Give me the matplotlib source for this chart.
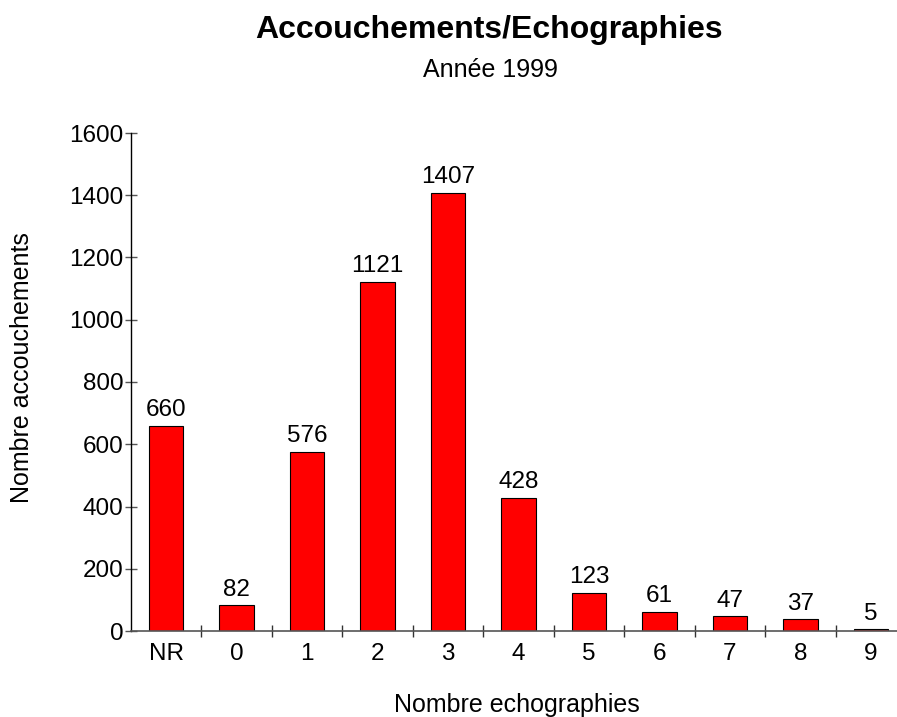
import matplotlib.pyplot as plt

plt.rcParams['font.family'] = ['Liberation Sans', 'DejaVu Sans']

categories = ['NR', '0', '1', '2', '3', '4', '5', '6', '7', '8', '9']
values = [660, 82, 576, 1121, 1407, 428, 123, 61, 47, 37, 5]
yticks = [0, 200, 400, 600, 800, 1000, 1200, 1400, 1600]

W, H = 897, 717
fig = plt.figure(figsize=(W / 100, H / 100), dpi=100)
# axe qui deborde a droite comme dans l'original
ax = fig.add_axes([131 / W, (H - 631) / H, (906 - 131) / W, 498 / H])

x = range(len(categories))
bars = ax.bar(x, values, width=0.49, color='#ff0000', edgecolor='black', linewidth=0.8, zorder=2)
for i, v in enumerate(values):
    ax.text(i, v + 15, str(v), ha='center', va='bottom', fontsize=17.5)

ax.set_xlim(-0.5, len(categories) - 0.5)
ax.set_ylim(0, 1600)
ax.set_yticks(yticks)
ax.tick_params(axis='y', direction='inout', length=9, width=1, color='#555555', labelsize=17.5, pad=1)

# graduations entre les categories, etiquettes au centre
ax.set_xticks([i + 0.5 for i in range(len(categories) - 1)])
ax.set_xticklabels([])
ax.tick_params(axis='x', which='major', direction='inout', length=9, width=1, color='#333333')
ax.set_xticks(list(x), minor=True)
ax.set_xticklabels(categories, minor=True, fontsize=17.5)
ax.tick_params(axis='x', which='minor', length=0, pad=9)

for s in ['top', 'right']:
    ax.spines[s].set_visible(False)
ax.spines['left'].set_color('black')
ax.spines['bottom'].set_color('#555555')
ax.spines['left'].set_linewidth(1)
ax.spines['bottom'].set_linewidth(1.2)

fig.text(489 / W, 1 - 38 / H, 'Accouchements/Echographies', ha='center', va='baseline',
         fontsize=23, fontweight='bold')
fig.text(490 / W, 1 - 77 / H, 'Année 1999', ha='center', va='baseline', fontsize=18)
fig.text(22 / W, 1 - 368 / H, 'Nombre accouchements', ha='center', va='center',
         rotation=90, fontsize=18)
fig.text(517 / W, 1 - 712 / H, 'Nombre echographies', ha='center', va='baseline', fontsize=18)

fig.savefig('out.png', dpi=100)
